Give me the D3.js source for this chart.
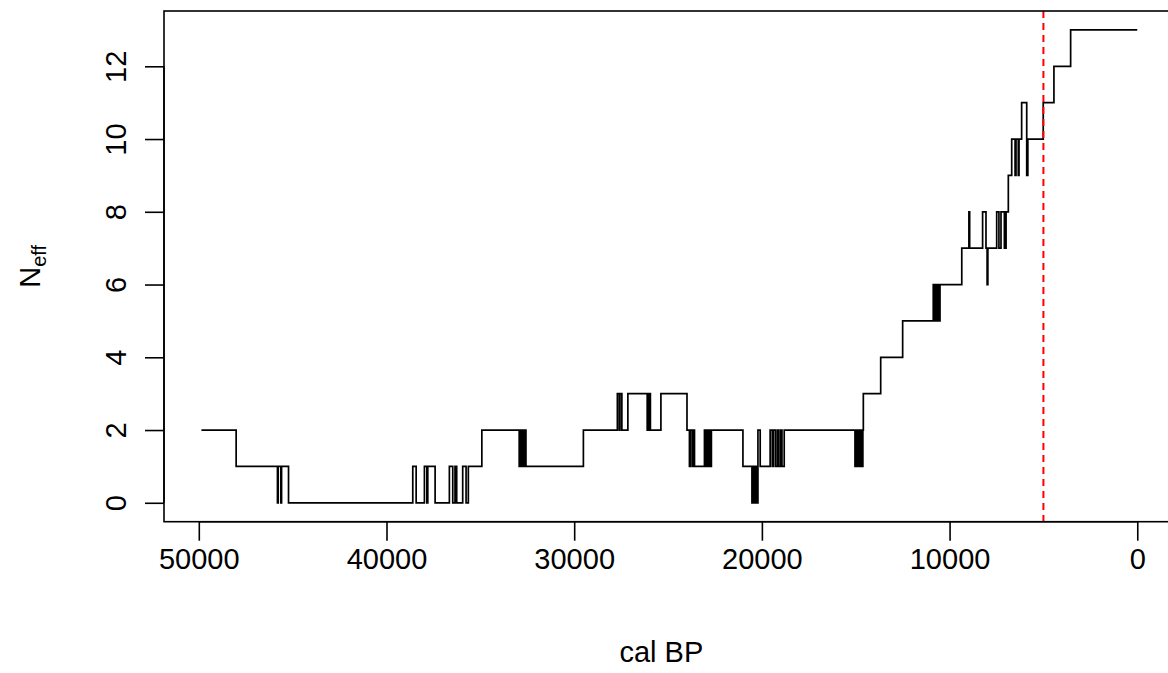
<!DOCTYPE html>
<html>
<head>
<meta charset="utf-8">
<script src="https://cdn.jsdelivr.net/npm/d3@7"></script>
<style>
  html, body { margin: 0; padding: 0; background: #fff; }
  svg text { font-family: "Liberation Sans", Arial, Helvetica, sans-serif; fill: #000; }
</style>
</head>
<body>
<div id="chart"></div>
<script>
// change points of the step curve (cal BP, descending) and the N_eff value from that point on
var calBP = [
  49860, 48010, 45810, 45770, 45630, 45590, 45220,
  38600, 38420, 37980, 37850, 37800, 37410, 36650, 36470, 36350, 36260, 35940, 35760, 35640,
  34920, 32930, 32880, 32810, 32750, 32680, 32630, 32570,
  29510, 27700, 27600, 27560, 27460, 27140, 26110, 26030, 25940, 25380,
  23990, 23860, 23800, 23700, 23640, 23590,
  23060, 23000, 22940, 22880, 22820, 22760, 22690,
  21010, 20530, 20450, 20390, 20320, 20270, 20210, 20090,
  19560, 19450, 19390, 19280, 19180, 19100, 19000, 18930, 18810,
  15040, 14960, 14900, 14820, 14760, 14690, 14650, 14620, 14595,
  13670, 12500,
  10870, 10810, 10750, 10690, 10630, 10570, 10510,
  9350, 8970, 8930, 8240, 8060, 8000, 7960,
  7490, 7370, 7260, 7080, 6990, 6870,
  6690, 6510, 6460, 6340, 6300, 6160, 5890, 5830,
  5010, 4440, 3550, 0
];
var neff = [
  2, 1, 0, 1, 0, 1, 0,
  1, 0, 1, 0, 1, 0, 1, 0, 1, 0, 1, 0, 1,
  2, 1, 2, 1, 2, 1, 2, 1,
  2, 3, 2, 3, 2, 3, 2, 3, 2, 3,
  2, 1, 2, 1, 2, 1,
  2, 1, 2, 1, 2, 1, 2,
  1, 0, 1, 0, 1, 0, 2, 1,
  2, 1, 2, 1, 2, 1, 2, 1, 2,
  1, 2, 1, 2, 1, 2, 1, 2, 3,
  4, 5,
  6, 5, 6, 5, 6, 5, 6,
  7, 8, 7, 8, 7, 6, 7,
  8, 7, 8, 7, 8, 9,
  10, 9, 10, 9, 10, 11, 9, 10,
  11, 12, 13, 13
];
var xTicks = [50000, 40000, 30000, 20000, 10000, 0];
var yTicks = [0, 2, 4, 6, 8, 10, 12];
var cutoff = [5000];

var width = 1168, height = 673;
var box = { left: 164, right: 1174.7, top: 11, bottom: 521.7 };

var svg = d3.select('#chart').append('svg')
    .attr('width', width)
    .attr('height', height);

// R style: 4% padding around the data range, x reversed
var xMax = d3.max(calBP), xMin = d3.min(calBP);
var xPad = (xMax - xMin) * 0.04;
var x = d3.scaleLinear()
    .domain([xMax + xPad, xMin - xPad])
    .range([box.left, box.right]);

var yPad = (d3.max(neff) - d3.min(neff)) * 0.04;
var y = d3.scaleLinear()
    .domain([d3.min(neff) - yPad, d3.max(neff) + yPad])
    .range([box.bottom, box.top]);

var points = calBP.map(function (d, i) { return [d, neff[i]]; });

var line = d3.line()
    .x(function (d) { return x(d[0]); })
    .y(function (d) { return y(d[1]); })
    .curve(d3.curveStepAfter);

svg.append('path')
    .datum(points)
    .attr('d', line)
    .attr('fill', 'none')
    .attr('stroke', '#000')
    .attr('stroke-width', 1.7);

// vertical dashed marker
svg.selectAll('line.cutoff')
    .data(cutoff)
  .enter().append('line')
    .attr('class', 'cutoff')
    .attr('x1', function (d) { return x(d); })
    .attr('x2', function (d) { return x(d); })
    .attr('y1', box.top)
    .attr('y2', box.bottom)
    .attr('stroke', '#ff0000')
    .attr('stroke-width', 2)
    .attr('stroke-dasharray', '7,5');

// plot box
svg.append('rect')
    .attr('x', box.left)
    .attr('y', box.top)
    .attr('width', box.right - box.left)
    .attr('height', box.bottom - box.top)
    .attr('fill', 'none')
    .attr('stroke', '#000')
    .attr('stroke-width', 1.6);

// x axis
var xAxis = d3.axisBottom(x)
    .tickValues(xTicks)
    .tickSize(19)
    .tickPadding(8)
    .tickFormat(d3.format('d'));

var gx = svg.append('g')
    .attr('transform', 'translate(0,' + box.bottom + ')')
    .call(xAxis);
gx.select('.domain')
    .attr('d', 'M' + x(xTicks[0]) + ',0H' + x(xTicks[xTicks.length - 1]))
    .attr('stroke-width', 1.6);
gx.selectAll('.tick line').attr('stroke-width', 1.6);
gx.selectAll('.tick text')
    .attr('font-size', 29)
    .attr('font-family', '"Liberation Sans", Arial, sans-serif');

// y axis, labels parallel to the axis
var yAxis = d3.axisLeft(y)
    .tickValues(yTicks)
    .tickSize(19);

var gy = svg.append('g')
    .attr('transform', 'translate(' + box.left + ',0)')
    .call(yAxis);
gy.select('.domain')
    .attr('d', 'M0,' + y(yTicks[0]) + 'V' + y(yTicks[yTicks.length - 1]))
    .attr('stroke-width', 1.6);
gy.selectAll('.tick line').attr('stroke-width', 1.6);
gy.selectAll('.tick text')
    .attr('font-size', 29)
    .attr('font-family', '"Liberation Sans", Arial, sans-serif')
    .attr('x', null)
    .attr('text-anchor', 'middle')
    .attr('transform', 'translate(-48,0) rotate(-90)')
    .attr('dy', '0.35em');

// axis titles
svg.append('text')
    .attr('x', (box.left + box.right) / 2 - 8)
    .attr('y', 662)
    .attr('text-anchor', 'middle')
    .attr('font-size', 29)
    .text('cal BP');

var yTitle = svg.append('text')
    .attr('transform', 'translate(40,' + (box.top + box.bottom) / 2 + ') rotate(-90)')
    .attr('text-anchor', 'middle')
    .attr('font-size', 29);
yTitle.append('tspan').text('N');
yTitle.append('tspan')
    .attr('font-size', 20)
    .attr('dy', 6)
    .text('eff');
</script>
</body>
</html>
